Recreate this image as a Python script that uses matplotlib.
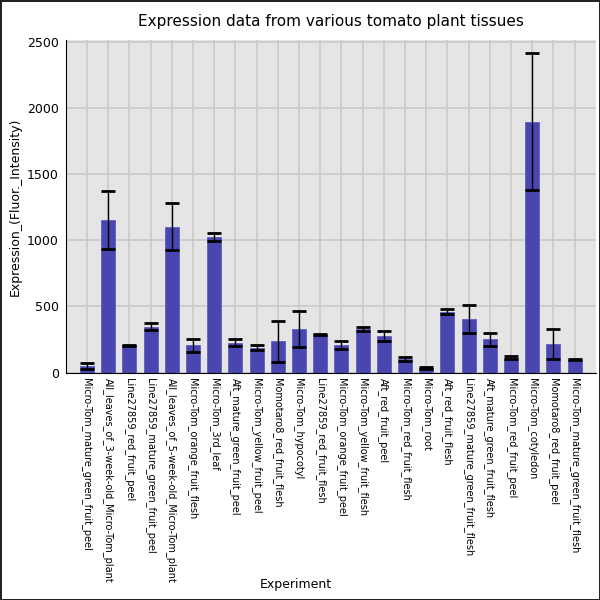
import matplotlib
matplotlib.use("Agg")
import matplotlib.pyplot as plt
import numpy as np

# tissues, in the order shown on the x axis
experiments = [
    "Micro-Tom_mature_green_fruit_peel",
    "All_leaves_of_3-week-old_Micro-Tom_plant",
    "Line27859_red_fruit_peel",
    "Line27859_mature_green_fruit_peel",
    "All_leaves_of_5-week-old_Micro-Tom_plant",
    "Micro-Tom_orange_fruit_flesh",
    "Micro-Tom_3rd_leaf",
    "Aft_mature_green_fruit_peel",
    "Micro-Tom_yellow_fruit_peel",
    "Momotaro8_red_fruit_flesh",
    "Micro-Tom_hypocotyl",
    "Line27859_red_fruit_flesh",
    "Micro-Tom_orange_fruit_peel",
    "Micro-Tom_yellow_fruit_flesh",
    "Aft_red_fruit_peel",
    "Micro-Tom_red_fruit_flesh",
    "Micro-Tom_root",
    "Aft_red_fruit_flesh",
    "Line27859_mature_green_fruit_flesh",
    "Aft_mature_green_fruit_flesh",
    "Micro-Tom_red_fruit_peel",
    "Micro-Tom_cotyledon",
    "Momotaro8_red_fruit_peel",
    "Micro-Tom_mature_green_fruit_flesh",
]

# mean expression (Fluor. Intensity)
expression = [52, 1150, 205, 347, 1100, 205, 1025, 226, 187, 235, 332, 285,
              208, 332, 278, 104, 38, 458, 405, 250, 112, 1895, 215, 96]

# error bar half-lengths
errors = [23, 220, 5, 27, 177, 50, 31, 24, 19, 157, 135, 4,
          33, 16, 39, 15, 8, 19, 103, 47, 10, 515, 114, 4]

fig = plt.figure(figsize=(6, 6), dpi=100)
fig.patch.set_edgecolor("#222222")
fig.patch.set_linewidth(1.0)
ax = fig.add_axes([0.1095, 0.379, 0.8835, 0.554])
ax.set_facecolor("#e5e5e5")
ax.set_axisbelow(True)
ax.grid(True, color="#c8c8c8", linewidth=1.1)

x = np.arange(len(experiments))
ax.bar(x, expression, width=0.66, color="#4a46b0", edgecolor="#625ec4",
       linewidth=0.6, zorder=2)
ax.errorbar(x, expression, yerr=errors, fmt="none", ecolor="black",
            elinewidth=1, capsize=5, capthick=2, zorder=3)

ax.set_xlim(-1, 24)
ax.set_ylim(0, 2510)
ax.set_yticks([0, 500, 1000, 1500, 2000, 2500])
ax.set_xticks(x)
ax.set_xticklabels(experiments, rotation=270, fontsize=7)
ax.tick_params(axis="x", length=0, pad=4)
ax.tick_params(axis="y", length=0, pad=5, labelsize=9)

for side in ["top", "right"]:
    ax.spines[side].set_visible(False)
ax.spines["left"].set_color("black")
ax.spines["bottom"].set_color("black")

ax.set_title("Expression data from various tomato plant tissues", fontsize=11, pad=10)
ax.set_ylabel("Expression_(Fluor._Intensity)", fontsize=9)
ax.set_xlabel("Experiment", fontsize=9)
ax.xaxis.set_label_coords(0.435, -0.618)

fig.savefig("out.png", dpi=100, edgecolor=fig.get_edgecolor())
